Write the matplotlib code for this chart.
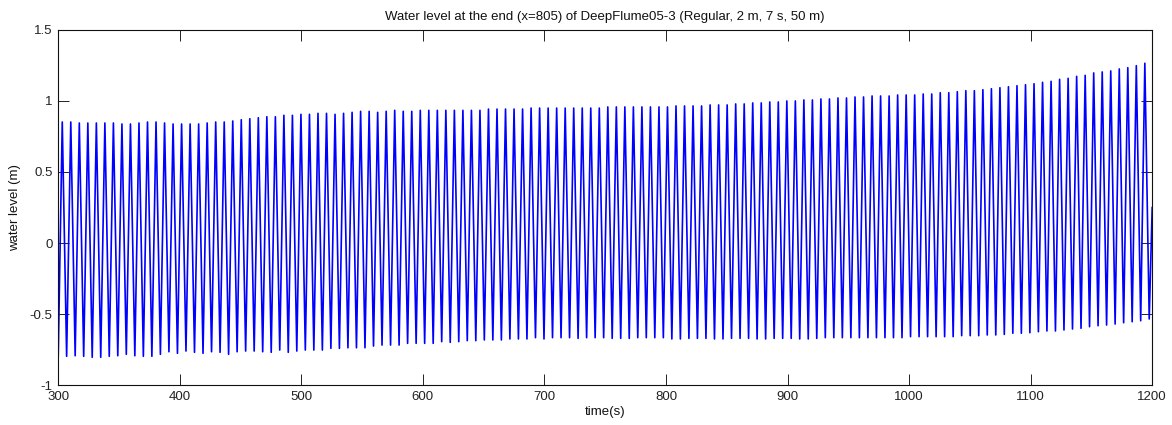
import numpy as np
import matplotlib

matplotlib.use("Agg")
import matplotlib.pyplot as plt

# wave record: one crest and one trough per 7 s cycle
first_crest_time = 303.3
wave_period = 7.013
trough_lag = 3.6
start_point = (300.0, -0.79)
end_point = (1200.0, 0.25)

crest_levels = [
    0.851, 0.851, 0.844, 0.844, 0.844, 0.844, 0.844, 0.837, 0.837, 0.844,
    0.851, 0.851, 0.844, 0.837, 0.837, 0.837, 0.837, 0.844, 0.851, 0.851,
    0.858, 0.867, 0.874, 0.881, 0.888, 0.888, 0.898, 0.898, 0.905, 0.905,
    0.912, 0.912, 0.905, 0.912, 0.919, 0.926, 0.926, 0.919, 0.926, 0.933,
    0.926, 0.926, 0.933,
    0.933, 0.933, 0.933, 0.933, 0.933, 0.933, 0.933, 0.942, 0.942, 0.942,
    0.942, 0.942, 0.949, 0.949, 0.949, 0.949, 0.949, 0.949, 0.949, 0.949,
    0.949, 0.957, 0.957, 0.957, 0.957, 0.957, 0.957, 0.957, 0.957, 0.964,
    0.964, 0.964, 0.964, 0.971, 0.971, 0.971, 0.978, 0.978, 0.985, 0.985,
    0.992, 0.992, 0.999,
    0.999, 1.006, 1.006, 1.013, 1.013, 1.020, 1.020, 1.027, 1.027, 1.034,
    1.034, 1.034, 1.041, 1.041, 1.041, 1.048, 1.048, 1.057, 1.057, 1.064,
    1.071, 1.071, 1.078, 1.085, 1.092, 1.099, 1.106, 1.113, 1.120, 1.130,
    1.137, 1.151, 1.158, 1.172, 1.179, 1.196, 1.203, 1.210, 1.224, 1.233,
    1.247, 1.264,
]

trough_levels = [
    -0.796, -0.792, -0.796, -0.803, -0.803, -0.796, -0.792, -0.782, -0.792, -0.796,
    -0.796, -0.782, -0.764, -0.775, -0.759, -0.768, -0.775, -0.764, -0.768, -0.782,
    -0.764, -0.759, -0.759, -0.764, -0.768, -0.752, -0.768, -0.759, -0.752, -0.752,
    -0.752, -0.740, -0.740, -0.736, -0.736, -0.736, -0.724, -0.717, -0.717, -0.717,
    -0.705, -0.705,
    -0.705, -0.705, -0.693, -0.698, -0.693, -0.686, -0.686, -0.681, -0.681, -0.681,
    -0.674, -0.674, -0.674, -0.665, -0.674, -0.665, -0.665, -0.665, -0.670, -0.665,
    -0.665, -0.665, -0.670, -0.670, -0.670, -0.665, -0.665, -0.665, -0.665, -0.674,
    -0.674, -0.670, -0.670, -0.670, -0.674, -0.674, -0.670, -0.670, -0.670, -0.674,
    -0.674, -0.670, -0.670,
    -0.670, -0.674, -0.674, -0.670, -0.665, -0.665, -0.665, -0.665, -0.665, -0.665,
    -0.665, -0.665, -0.665, -0.665, -0.658, -0.658, -0.658, -0.658, -0.658, -0.658,
    -0.651, -0.651, -0.651, -0.646, -0.646, -0.642, -0.634, -0.634, -0.630, -0.623,
    -0.618, -0.618, -0.611, -0.604, -0.599, -0.588, -0.581, -0.576, -0.569, -0.560,
    -0.553, -0.546, -0.534,
]

x_ticks = [300, 400, 500, 600, 700, 800, 900, 1000, 1100, 1200]
y_ticks = [-1, -0.5, 0, 0.5, 1, 1.5]
y_tick_labels = ["-1", "-0.5", "0", "0.5", "1", "1.5"]

crest_time = first_crest_time + wave_period * np.arange(len(crest_levels))
trough_time = crest_time + trough_lag

t = np.empty(2 * len(crest_levels))
eta = np.empty_like(t)
t[0::2], t[1::2] = crest_time, trough_time
eta[0::2], eta[1::2] = crest_levels, trough_levels
t = np.concatenate([[start_point[0]], t, [end_point[0]]])
eta = np.concatenate([[start_point[1]], eta, [end_point[1]]])

plt.rcParams["font.family"] = ["Liberation Sans", "DejaVu Sans"]

fig = plt.figure(figsize=(11.72, 4.25), dpi=100)
ax = fig.add_axes([0.0497, 0.0934, 0.9334, 0.8367])
ax.plot(t, eta, color="#0000ff", linewidth=1.2)

ax.set_xlim(300, 1200)
ax.set_ylim(-1, 1.5)
ax.set_xticks(x_ticks)
ax.set_yticks(y_ticks)
ax.set_yticklabels(y_tick_labels)
ax.tick_params(direction="in", length=7.9, width=0.7, top=True, right=True,
               labelsize=9.5, pad=4, colors="#222222")
for spine in ax.spines.values():
    spine.set_linewidth(0.8)
    spine.set_color("#111111")

ax.set_title("Water level at the end (x=805) of DeepFlume05-3 (Regular, 2 m, 7 s, 50 m)",
             fontsize=9.5, pad=7, color="#111111")
ax.set_xlabel("time(s)", fontsize=9.5, labelpad=2, color="#111111")
ax.set_ylabel("water level (m)", fontsize=9.5, labelpad=6, color="#111111")

fig.savefig("out.png", dpi=100, facecolor="white")
